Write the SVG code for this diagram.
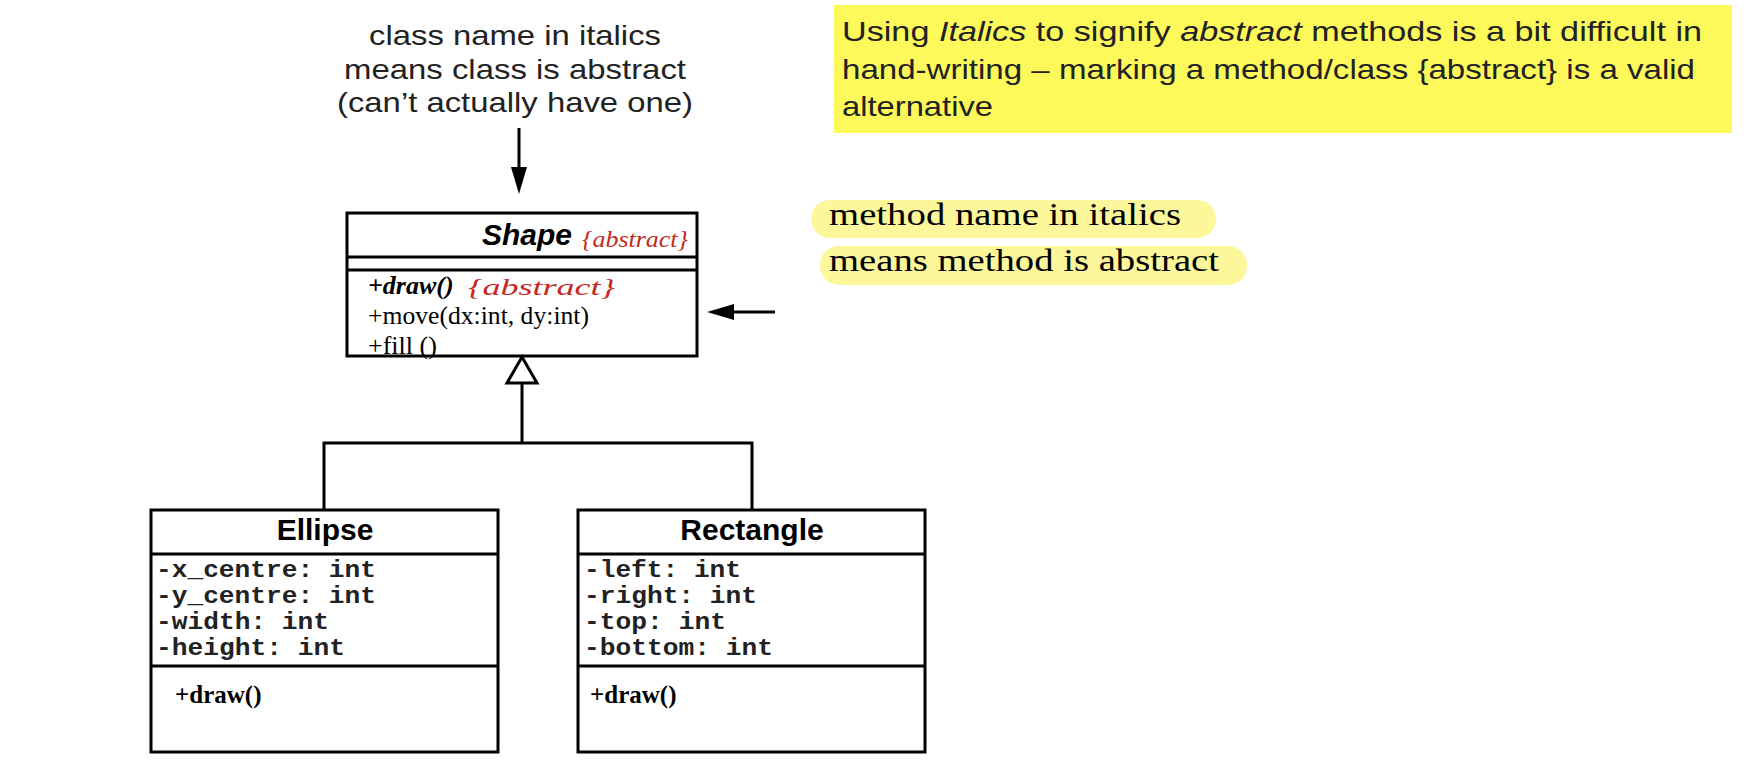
<svg xmlns="http://www.w3.org/2000/svg" width="1762" height="774" viewBox="0 0 1762 774">
<defs>
<style>
.box{fill:#fff;stroke:#000;stroke-width:3}
.ln{stroke:#000;stroke-width:3;fill:none}
.cname{font-family:"Liberation Sans",Arial,sans-serif;font-weight:bold;font-size:30px;fill:#000}
.attr{font-family:"Liberation Mono","Courier New",monospace;font-weight:bold;font-size:23px;fill:#222}
.meth{font-family:"Liberation Serif","Times New Roman",serif;font-size:25px;fill:#000}
.smeth{font-family:"Liberation Serif","Times New Roman",serif;font-size:26px;fill:#000}
.note{font-family:"Liberation Sans",Arial,sans-serif;font-size:28px;fill:#222}
.hl{font-family:"Liberation Serif","Times New Roman",serif;font-size:31px;fill:#000}
.red{font-family:"Liberation Serif","Times New Roman",serif;font-style:italic;font-size:24px;fill:#c42a1e}
</style>
</defs>
<rect width="1762" height="774" fill="#fff"/>

<g id="note-class">
<text class="note" text-anchor="middle" x="515" y="45" textLength="292" lengthAdjust="spacingAndGlyphs">class name in italics</text>
<text class="note" text-anchor="middle" x="515" y="79" textLength="342" lengthAdjust="spacingAndGlyphs">means class is abstract</text>
<text class="note" text-anchor="middle" x="515" y="112" textLength="356" lengthAdjust="spacingAndGlyphs">(can’t actually have one)</text>
</g>

<g id="note-yellow">
<rect x="834" y="5" width="898" height="128" fill="#fdf95a"/>
<text class="note" x="842" y="41" textLength="860" lengthAdjust="spacingAndGlyphs">Using <tspan font-style="italic">Italics</tspan> to signify <tspan font-style="italic">abstract</tspan> methods is a bit difficult in</text>
<text class="note" x="842" y="79" textLength="853" lengthAdjust="spacingAndGlyphs">hand-writing – marking a method/class {abstract} is a valid</text>
<text class="note" x="842" y="116" textLength="151" lengthAdjust="spacingAndGlyphs">alternative</text>
</g>

<g id="note-method">
<rect x="811" y="200" width="405" height="38" rx="19" fill="#fbf79a"/>
<rect x="820" y="246" width="427" height="39" rx="19" fill="#fbf79a"/>
<text class="hl" x="829" y="225" textLength="352" lengthAdjust="spacingAndGlyphs">method name in italics</text>
<text class="hl" x="829" y="271" textLength="390" lengthAdjust="spacingAndGlyphs">means method is abstract</text>
</g>

<g id="Shape">
<rect class="box" x="347" y="213" width="350" height="143"/>
<line class="ln" x1="347" y1="257" x2="697" y2="257"/>
<line class="ln" x1="347" y1="270" x2="697" y2="270"/>
<text class="cname" font-style="italic" text-anchor="end" x="572" y="245">Shape</text>
<text class="red" x="582" y="247" textLength="106" lengthAdjust="spacingAndGlyphs">{abstract}</text>
<text class="smeth" x="368" y="294" font-weight="bold" font-style="italic">+draw()</text>
<text class="red" x="468" y="295" textLength="147" lengthAdjust="spacingAndGlyphs">{abstract}</text>
<text class="smeth" x="368" y="324" textLength="221" lengthAdjust="spacingAndGlyphs">+move(dx:int, dy:int)</text>
<text class="smeth" x="368" y="354">+fill ()</text>
</g>

<g id="Ellipse">
<rect class="box" x="151" y="510" width="347" height="242"/>
<line class="ln" x1="151" y1="554" x2="498" y2="554"/>
<line class="ln" x1="151" y1="666" x2="498" y2="666"/>
<text class="cname" text-anchor="middle" x="325" y="540">Ellipse</text>
<text class="attr" x="156" y="577" textLength="220" lengthAdjust="spacingAndGlyphs">-x_centre: int</text>
<text class="attr" x="156" y="603" textLength="220" lengthAdjust="spacingAndGlyphs">-y_centre: int</text>
<text class="attr" x="156" y="629" textLength="173" lengthAdjust="spacingAndGlyphs">-width: int</text>
<text class="attr" x="156" y="655" textLength="189" lengthAdjust="spacingAndGlyphs">-height: int</text>
<text class="meth" font-weight="bold" x="175" y="703">+draw()</text>
</g>

<g id="Rectangle">
<rect class="box" x="578" y="510" width="347" height="242"/>
<line class="ln" x1="578" y1="554" x2="925" y2="554"/>
<line class="ln" x1="578" y1="666" x2="925" y2="666"/>
<text class="cname" text-anchor="middle" x="752" y="540">Rectangle</text>
<text class="attr" x="584" y="577" textLength="157" lengthAdjust="spacingAndGlyphs">-left: int</text>
<text class="attr" x="584" y="603" textLength="173" lengthAdjust="spacingAndGlyphs">-right: int</text>
<text class="attr" x="584" y="629" textLength="142" lengthAdjust="spacingAndGlyphs">-top: int</text>
<text class="attr" x="584" y="655" textLength="189" lengthAdjust="spacingAndGlyphs">-bottom: int</text>
<text class="meth" font-weight="bold" x="590" y="703">+draw()</text>
</g>

<g id="connectors">
<line class="ln" x1="519" y1="128" x2="519" y2="170"/>
<polygon points="519,194 511,167 527,167" fill="#000"/>
<line class="ln" x1="775" y1="312" x2="730" y2="312"/>
<polygon points="707,312 734,304 734,320" fill="#000"/>
<polyline class="ln" points="324,510 324,443 752,443 752,510"/>
<line class="ln" x1="522" y1="443" x2="522" y2="383"/>
<polygon points="522,357 507,383 537,383" fill="#fff" stroke="#000" stroke-width="3"/>
</g>
</svg>
